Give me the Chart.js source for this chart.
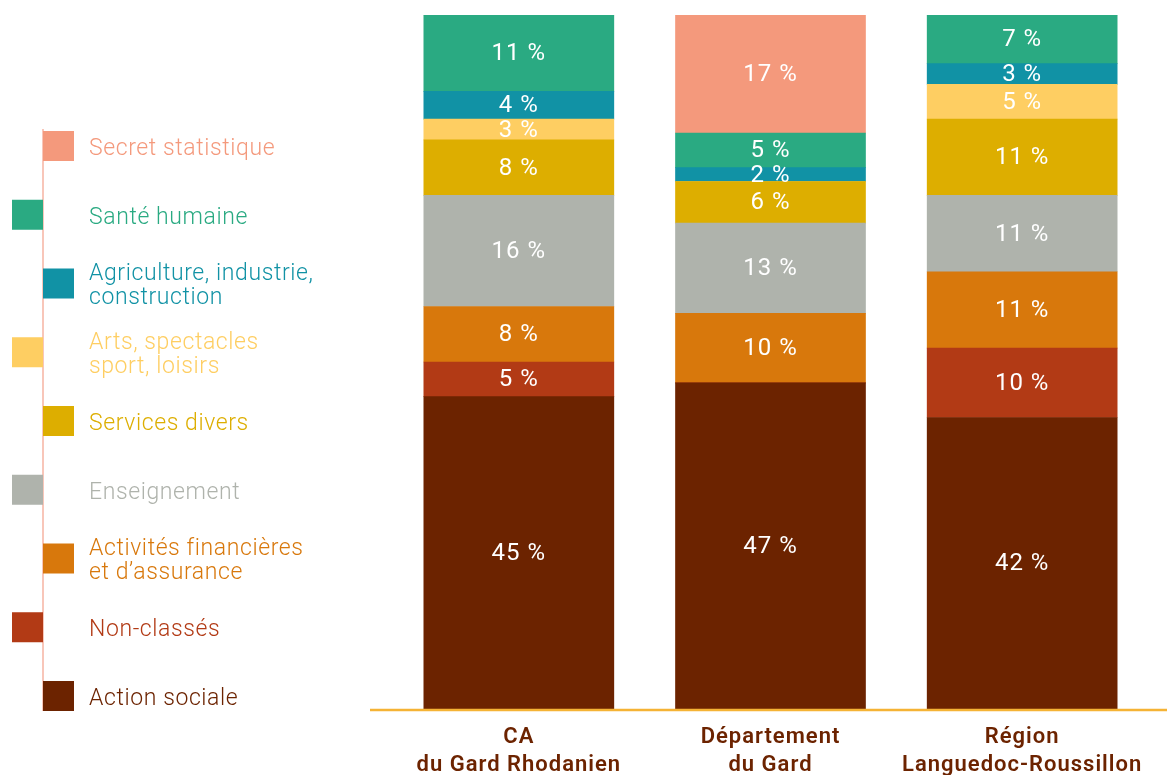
<!DOCTYPE html>
<html>
<head>
<meta charset="utf-8">
<script src="https://cdn.jsdelivr.net/npm/chart.js@4.4.1/dist/chart.umd.min.js"></script>
<style>
  html, body { margin: 0; padding: 0; background: #fff; }
  #wrap { width: 1167px; height: 775px; position: relative; }
</style>
</head>
<body>
<div id="wrap"><canvas id="secteurs"></canvas></div>
<script>
// territoires (axe x) et parts d'emploi par secteur, en %
const territoires = [["CA", "du Gard Rhodanien"], ["Département", "du Gard"], ["Région", "Languedoc-Roussillon"]];

const actionSociale   = [45, 47, 42];
const nonClasses      = [5, 0, 10];
const financeAssur    = [8, 10, 11];
const enseignement    = [16, 13, 11];
const servicesDivers  = [8, 6, 11];
const artsSpectacles  = [3, 0, 5];
const agriIndustrie   = [4, 2, 3];
const santeHumaine    = [11, 5, 7];
const secretStat      = [0, 17, 0];

// empilement du bas vers le haut
const series = [
  { label: ["Action sociale"], data: actionSociale, color: "#6C2300" },
  { label: ["Non-classés"], data: nonClasses, color: "#B23A15" },
  { label: ["Activités financières", "et d’assurance"], data: financeAssur, color: "#D8780C" },
  { label: ["Enseignement"], data: enseignement, color: "#AFB3AC" },
  { label: ["Services divers"], data: servicesDivers, color: "#DDAE00" },
  { label: ["Arts, spectacles", "sport, loisirs"], data: artsSpectacles, color: "#FECE62" },
  { label: ["Agriculture, industrie,", "construction"], data: agriIndustrie, color: "#1192A5" },
  { label: ["Santé humaine"], data: santeHumaine, color: "#2AAA82" },
  { label: ["Secret statistique"], data: secretStat, color: "#F4997C" }
];

const FONT = "Roboto, 'Noto Sans', sans-serif";

// un peu d'interlettrage pour les libellés de l'axe
const interlettre = {
  id: "interlettre",
  beforeDraw(chart) { chart.ctx.letterSpacing = "1px"; }
};

// pourcentages en blanc au centre de chaque segment
const valeurs = {
  id: "valeurs",
  afterDatasetsDraw(chart) {
    const ctx = chart.ctx;
    ctx.save();
    ctx.letterSpacing = "1px";
    ctx.fillStyle = "#fff";
    ctx.font = "400 24px " + FONT;
    ctx.textAlign = "center";
    ctx.textBaseline = "middle";
    chart.data.datasets.forEach((ds, i) => {
      chart.getDatasetMeta(i).data.forEach((bar, j) => {
        const v = ds.data[j];
        if (!v) return;
        ctx.fillText(v + " %", bar.x, (bar.y + bar.base) / 2 + 1);
      });
    });
    ctx.restore();
  }
};

// ligne de base orangée, plus large que la zone des barres
const socle = {
  id: "socle",
  afterDatasetsDraw(chart) {
    const ctx = chart.ctx;
    const y = chart.scales.y.getPixelForValue(0) + 1;
    ctx.save();
    ctx.strokeStyle = "#F5B335";
    ctx.lineWidth = 2.5;
    ctx.beginPath();
    ctx.moveTo(370, y);
    ctx.lineTo(chart.width, y);
    ctx.stroke();
    ctx.restore();
  }
};

// légende verticale : carrés en quinconce de part et d'autre d'un filet
const legende = {
  id: "legende",
  afterDraw(chart) {
    const ctx = chart.ctx;
    const items = chart.data.datasets.slice().reverse();
    const axeX = 43, top0 = 131, pas = 68.75, cote = 31;
    ctx.save();
    ctx.letterSpacing = "0.6px";
    ctx.strokeStyle = "#F4A08A";
    ctx.lineWidth = 1.2;
    ctx.beginPath();
    ctx.moveTo(axeX, 129);
    ctx.lineTo(axeX, top0 + pas * (items.length - 1) + 30);
    ctx.stroke();
    ctx.font = "300 23px " + FONT;
    ctx.textBaseline = "middle";
    ctx.textAlign = "left";
    items.forEach((ds, i) => {
      const y = top0 + i * pas;
      const x = i % 2 === 0 ? axeX : axeX - cote;
      ctx.fillStyle = ds.backgroundColor;
      ctx.fillRect(x, y, cote, 30);
      const lignes = ds.label;
      const cy = y + 18;
      lignes.forEach((t, k) => {
        ctx.fillText(t, 89, cy + (k - (lignes.length - 1) / 2) * 24);
      });
    });
    ctx.restore();
  }
};

new Chart(document.getElementById("secteurs"), {
  type: "bar",
  data: {
    labels: territoires,
    datasets: series.map(s => ({
      label: s.label,
      data: s.data,
      backgroundColor: s.color,
      borderWidth: 0,
      barThickness: 190
    }))
  },
  options: {
    responsive: true,
    maintainAspectRatio: false,
    animation: false,
    layout: { padding: { left: 393, right: 19, top: 15, bottom: 0 } },
    plugins: { legend: { display: false }, tooltip: { enabled: false } },
    scales: {
      x: {
        stacked: true,
        grid: { display: false, drawTicks: false },
        border: { display: false },
        afterFit(scale) { scale.height = 66; },
        ticks: {
          color: "#6C2300",
          padding: 14,
          font: { family: FONT, size: 22, weight: "600", lineHeight: 1.28 }
        }
      },
      y: {
        stacked: true,
        display: false,
        min: 0,
        max: 100
      }
    }
  },
  plugins: [interlettre, valeurs, socle, legende]
});
</script>
</body>
</html>
